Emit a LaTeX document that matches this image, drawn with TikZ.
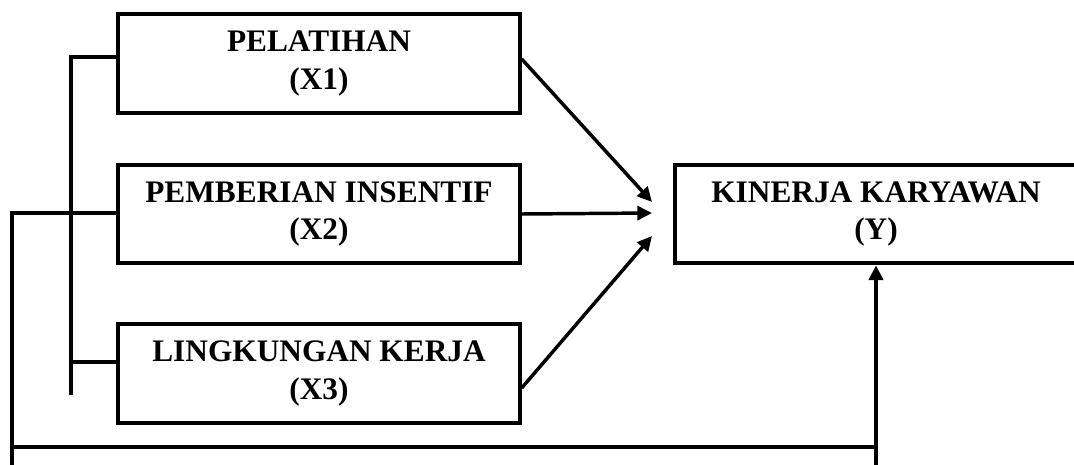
\documentclass[tikz,border=0pt]{standalone}
\usepackage{fontspec}
\setmainfont{Liberation Serif}
\usetikzlibrary{arrows.meta}
\begin{document}
\begin{tikzpicture}[x=0.75pt,y=-0.75pt,
  box/.style={draw,line width=3pt,minimum width=301pt,minimum height=74pt,inner sep=0pt,align=center,
    font=\fontsize{23.5}{28}\selectfont\bfseries},
  link/.style={line width=3pt},
  arr/.style={line width=2.6pt,-{Triangle[length=11pt,width=10.5pt]}}]
\clip (0,0) rectangle (1074,464);
\fill[white] (0,0) rectangle (1074,464);
\node[box] (x1) at (319,63.5) {PELATIHAN\\(X1)};
\node[box] (x2) at (319,214) {PEMBERIAN INSENTIF\\(X2)};
\node[box] (x3) at (319,373.5) {LINGKUNGAN KERJA\\(X3)};
\node[box] (y) at (876,214) {KINERJA KARYAWAN\\(Y)};
% arrow tips
\coordinate (t1) at (652,202);
\coordinate (t2) at (652,213);
\coordinate (t3) at (652,236);
\draw[arr] ([yshift=3.4pt]x1.east) -- (t1);
\draw[arr] (x2.east) -- (t2);
\draw[arr] ([yshift=-10.9pt]x3.east) -- (t3);
% bracket
\coordinate (bt) at (71,57);
\coordinate (b2) at (71,213);
\coordinate (b3) at (71,362);
\coordinate (bb) at (71,395);
\draw[link] (bb) -- (bt) -- (bt -| x1.west);
\draw[link] (b3) -- (b3 -| x3.west);
\draw[link] (b2) -- (b2 -| x2.west);
% outer loop
\coordinate (o1) at (12,470);
\coordinate (o2) at (12,213);
\coordinate (l1) at (12,447);
\coordinate (l2) at (876,447);
\coordinate (v1) at (876,470);
\draw[link] (o1) -- (o2) -- (o2 -| x2.west);
\draw[link] (l1) -- (l2);
\draw[arr,line width=3pt] (v1) -- (y.south);
\end{tikzpicture}
\end{document}
